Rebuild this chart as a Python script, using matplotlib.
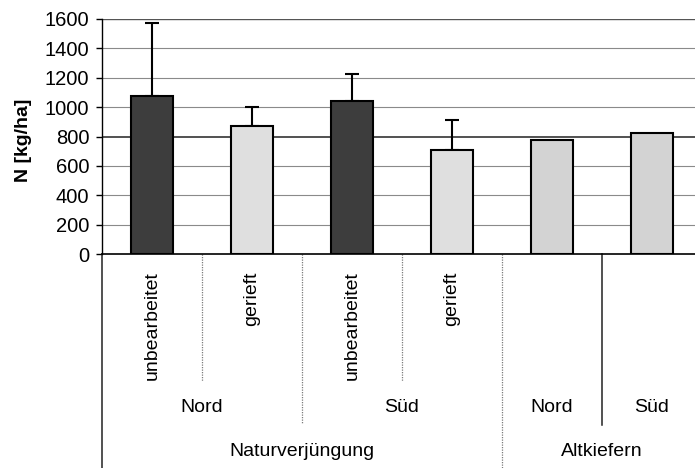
import numpy as np
import matplotlib
matplotlib.use("Agg")
import matplotlib.pyplot as plt
from matplotlib.transforms import blended_transform_factory

plt.rcParams["font.family"] = ["Liberation Sans", "DejaVu Sans"]

# data
treatments = ["unbearbeitet", "gerieft", "unbearbeitet", "gerieft", "", ""]
n_values   = [1075, 873, 1040, 710, 773, 825]
err_upper  = [495, 127, 185, 200]          # only the Naturverjüngung bars have error bars
sides      = ["Nord", "Süd", "Nord", "Süd"]
side_spans = [(0, 1), (2, 3), (4, 4), (5, 5)]
stands     = ["Naturverjüngung", "Altkiefern"]
stand_spans = [(0, 3), (4, 5)]
yticks     = [0, 200, 400, 600, 800, 1000, 1200, 1400, 1600]

C_DARK  = "#3d3d3d"
C_LIGHT = "#dfdfdf"
C_ALT   = "#d3d3d3"
bar_colors = [C_DARK, C_LIGHT, C_DARK, C_LIGHT, C_ALT, C_ALT]

W, H = 695, 468
fig = plt.figure(figsize=(W / 100, H / 100), dpi=100)
ax = fig.add_axes([102 / W, 1 - 254 / H, 600 / W, 235 / H])

x = np.arange(len(n_values))

# gridlines (scan shows the 800 line much darker)
for v in yticks[1:]:
    col, lw = ("#222222", 1.1) if v == 800 else ("#8a8a8a", 0.8)
    if v == 1600:
        col, lw = ("#555555", 1.0)
    ax.axhline(v, color=col, lw=lw, zorder=0)

ax.bar(x, n_values, width=0.42, color=bar_colors, edgecolor="black",
       linewidth=1.5, zorder=3)
ax.errorbar(x[:4], n_values[:4], yerr=[np.zeros(4), err_upper], fmt="none",
            ecolor="black", elinewidth=1.5, capsize=5, capthick=1.5, zorder=2)

ax.set_xlim(-0.5, 5.5)
ax.set_ylim(0, 1600)
ax.set_yticks(yticks)
ax.set_xticks([])
ax.tick_params(axis="y", labelsize=14.5, length=4, width=1, pad=5, colors="black")
for s in ["top", "right"]:
    ax.spines[s].set_visible(False)
ax.spines["left"].set_linewidth(1.0)
ax.spines["bottom"].set_linewidth(1.2)

fig.text(24 / W, 1 - 140 / H, "N [kg/ha]", rotation=90, ha="center",
         va="center", fontsize=14, fontweight="bold")

# multi-level category axis below the plot
tr = blended_transform_factory(ax.transData, fig.transFigure)

def fy(px):
    return 1 - px / H

for xi, lab in zip(x, treatments):
    if lab:
        ax.text(xi, fy(271), lab, rotation=90, ha="center", va="top",
                fontsize=14, transform=tr)

for lab, (a, b) in zip(sides, side_spans):
    ax.text((a + b) / 2, fy(408), lab, ha="center", va="center",
            fontsize=14, transform=tr)

for lab, (a, b) in zip(stands, stand_spans):
    ax.text((a + b) / 2, fy(452), lab, ha="center", va="center",
            fontsize=14, transform=tr)

dotted = dict(color="#7a7a7a", lw=0.9, linestyle=(0, (1, 1)))
solid = dict(color="#222222", lw=1.1)
dividers = [
    (0.5, 381, dotted),
    (2.5, 381, dotted),
    (1.5, 424, dotted),
    (4.5, 425, solid),
    (3.5, 468, dotted),
    (-0.5, 468, solid),
]
for xd, yend, style in dividers:
    ax.plot([xd, xd], [fy(254), fy(yend)], transform=tr, clip_on=False, **style)

fig.savefig("out.png", dpi=100)
